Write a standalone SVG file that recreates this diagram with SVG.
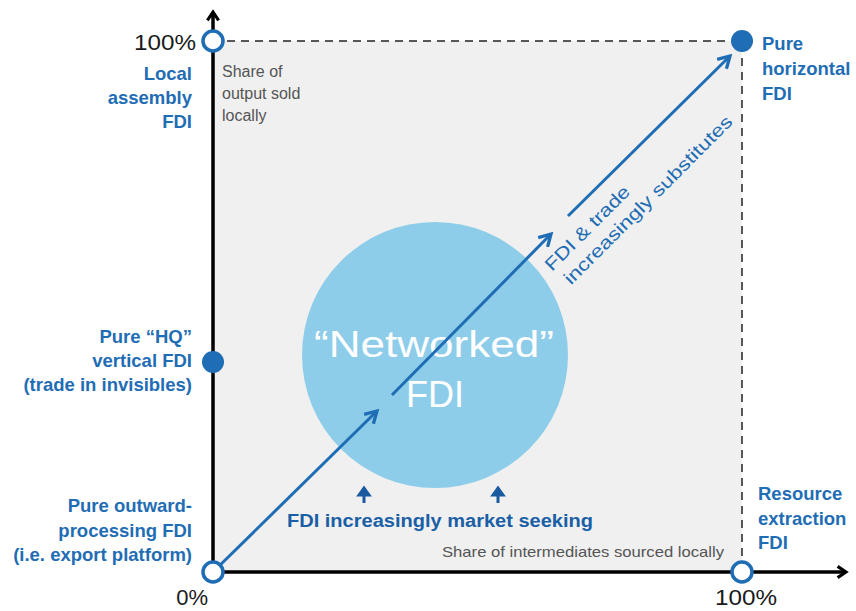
<svg xmlns="http://www.w3.org/2000/svg" width="856" height="611" viewBox="0 0 856 611">
<defs>
<style>
.lbl{font-family:"Liberation Sans",Arial,sans-serif;font-weight:bold;font-size:18.5px;fill:#1f6db4}
.pct{font-family:"Liberation Sans",Arial,sans-serif;font-size:22px;fill:#1a1a1a}
.note{font-family:"Liberation Sans",Arial,sans-serif;font-size:16px;fill:#555}
.diag{font-family:"Liberation Sans",Arial,sans-serif;font-size:18px;fill:#1f6db4}
.big{font-family:"Liberation Sans",Arial,sans-serif;font-size:36px;fill:#fff;text-anchor:middle}
.axis{stroke:#000;stroke-width:3.5;fill:none}
.dash{stroke:#222;stroke-width:1.5;stroke-dasharray:8 6;fill:none}
.arr{stroke:#1f6db4;stroke-width:3;fill:none}
.ring{fill:#fff;stroke:#1f6db4;stroke-width:3.5}
.dot{fill:#1f6db4}
</style>
<marker id="ah" viewBox="0 0 10 10" refX="8" refY="5" markerWidth="5.5" markerHeight="5.5" orient="auto" markerUnits="strokeWidth">
<path d="M1,1 L8,5 L1,9" fill="none" stroke="#1f6db4" stroke-width="2"/>
</marker>
<marker id="axh" viewBox="0 0 10 10" refX="8" refY="5" markerWidth="4" markerHeight="4" orient="auto" markerUnits="strokeWidth">
<path d="M2,1 L8,5 L2,9" fill="none" stroke="#000" stroke-width="2.2"/>
</marker>
</defs>
<rect width="856" height="611" fill="#fff"/>
<g id="plot-area">
<rect x="213" y="41" width="529" height="531" fill="#f0f0f0"/>
<path class="dash" d="M213,41 H742 V572"/>
</g>
<g id="networked-fdi">
<circle cx="435" cy="355" r="133" fill="#8ecde9"/>
<text class="big" x="434" y="357" textLength="240" lengthAdjust="spacingAndGlyphs">“Networked”</text>
<text class="big" x="435" y="407">FDI</text>
</g>
<g id="connectors">
<line class="axis" x1="213" y1="574" x2="213" y2="12" marker-end="url(#axh)"/>
<line class="axis" x1="211" y1="572" x2="846" y2="572" marker-end="url(#axh)"/>
<line class="arr" x1="213" y1="572" x2="377" y2="411" marker-end="url(#ah)"/>
<line class="arr" x1="392" y1="395" x2="551" y2="234" marker-end="url(#ah)"/>
<line class="arr" x1="568" y1="216" x2="730" y2="56" marker-end="url(#ah)"/>
<path d="M364,503 V492 M359,495 L364,488 L369,495Z" stroke="#1a5a9e" stroke-width="3" fill="#1a5a9e"/>
<path d="M498,503 V492 M493,495 L498,488 L503,495Z" stroke="#1a5a9e" stroke-width="3" fill="#1a5a9e"/>
</g>
<g id="local-assembly">
<circle class="ring" cx="213" cy="41" r="10"/>
<text class="pct" x="196" y="50" text-anchor="end" textLength="62" lengthAdjust="spacingAndGlyphs">100%</text>
<text class="lbl" text-anchor="end" x="192" y="80">Local</text>
<text class="lbl" text-anchor="end" x="192" y="104">assembly</text>
<text class="lbl" text-anchor="end" x="192" y="128">FDI</text>
<text class="note" x="222" y="77">Share of</text>
<text class="note" x="222" y="99">output sold</text>
<text class="note" x="222" y="121">locally</text>
</g>
<g id="pure-horizontal">
<circle class="dot" cx="742" cy="41" r="11"/>
<text class="lbl" x="762" y="50">Pure</text>
<text class="lbl" x="762" y="75">horizontal</text>
<text class="lbl" x="762" y="100">FDI</text>
</g>
<g id="pure-hq">
<circle class="dot" cx="213" cy="362" r="11"/>
<text class="lbl" text-anchor="end" x="192" y="343">Pure “HQ”</text>
<text class="lbl" text-anchor="end" x="192" y="367">vertical FDI</text>
<text class="lbl" text-anchor="end" x="192" y="391">(trade in invisibles)</text>
</g>
<g id="pure-outward">
<circle class="ring" cx="213" cy="572" r="10"/>
<text class="lbl" text-anchor="end" x="192" y="512">Pure outward-</text>
<text class="lbl" text-anchor="end" x="192" y="537">processing FDI</text>
<text class="lbl" text-anchor="end" x="192" y="561">(i.e. export platform)</text>
<text class="pct" x="208" y="605" text-anchor="end">0%</text>
</g>
<g id="resource-extraction">
<circle class="ring" cx="742" cy="572" r="10"/>
<text class="lbl" x="758" y="500">Resource</text>
<text class="lbl" x="758" y="525">extraction</text>
<text class="lbl" x="758" y="549">FDI</text>
<text class="pct" x="746" y="605" text-anchor="middle" textLength="62" lengthAdjust="spacingAndGlyphs">100%</text>
<text class="note" x="442" y="557" style="font-size:14.5px" textLength="282" lengthAdjust="spacingAndGlyphs">Share of intermediates sourced locally</text>
</g>
<g id="market-seeking">
<text class="lbl" x="287" y="527" style="font-size:18px;fill:#1a5fa5" textLength="306" lengthAdjust="spacingAndGlyphs">FDI increasingly market seeking</text>
</g>
<g id="substitutes" transform="translate(552,272) rotate(-45)">
<text class="diag" x="0" y="0" textLength="112" lengthAdjust="spacingAndGlyphs">FDI &amp; trade</text>
<text class="diag" x="4" y="23" textLength="230" lengthAdjust="spacingAndGlyphs">increasingly substitutes</text>
</g>
</svg>
